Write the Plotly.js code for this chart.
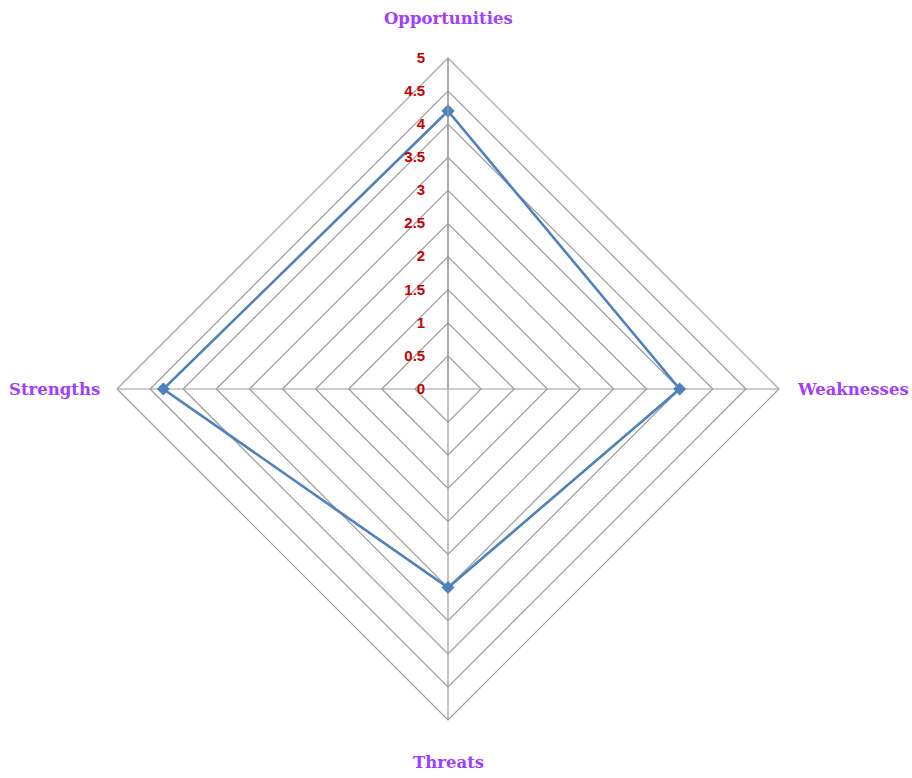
<!DOCTYPE html>
<html>
<head>
<meta charset="utf-8">
<script src="https://cdn.plot.ly/plotly-3.0.1.min.js"></script>
<style>html,body{margin:0;padding:0;background:#fff;}#chart{width:912px;height:778px;}</style>
</head>
<body>
<div id="chart"></div>
<script>
const categories = ["Opportunities", "Weaknesses", "Threats", "Strengths"];
const values = [4.2, 3.5, 3.0, 4.3];
const radialTicks = [0, 0.5, 1, 1.5, 2, 2.5, 3, 3.5, 4, 4.5, 5];

const trace = {
  type: 'scatterpolar',
  theta: categories.concat([categories[0]]),
  r: values.concat([values[0]]),
  mode: 'lines+markers',
  line: {color: '#4f81bd', width: 2.6},
  marker: {symbol: 'diamond', size: 10, color: '#4f81bd'},
  hoverinfo: 'skip',
  showlegend: false
};

const labelFont = {family: 'DejaVu Serif, Liberation Serif, serif', size: 16.5, color: '#a040ff', weight: 'bold'};
const labelPos = [
  {x: 448/912, y: 1 - 18/778, xanchor: 'center', yanchor: 'middle'},
  {x: 795/912, y: 1 - 389/778, xanchor: 'left', yanchor: 'middle'},
  {x: 448/912, y: 1 - 762/778, xanchor: 'center', yanchor: 'middle'},
  {x: 102/912, y: 1 - 389/778, xanchor: 'right', yanchor: 'middle'}
];
const annotations = categories.map((c, i) => Object.assign({
  text: '<b>' + c + '</b>', xref: 'paper', yref: 'paper', showarrow: false, font: labelFont
}, labelPos[i]));

const layout = {
  width: 912, height: 778,
  margin: {l: 0, r: 0, t: 0, b: 0},
  paper_bgcolor: '#ffffff',
  showlegend: false,
  annotations: annotations,
  polar: {
    domain: {x: [117/912, 779/912], y: [58/778, 720/778]},
    bgcolor: '#ffffff',
    gridshape: 'linear',
    angularaxis: {
      direction: 'clockwise',
      rotation: 90,
      showticklabels: false,
      ticks: '',
      showline: true,
      linecolor: '#9c9c9c',
      linewidth: 1.2,
      gridcolor: '#9c9c9c',
      gridwidth: 1.2
    },
    radialaxis: {
      range: [0, 5],
      angle: 90,
      tickvals: radialTicks,
      ticktext: radialTicks.map(String),
      tickangle: 90,
      side: 'counterclockwise',
      ticks: 'outside',
      ticklen: 17,
      tickcolor: 'rgba(0,0,0,0)',
      showline: true,
      linecolor: '#9c9c9c',
      linewidth: 1.2,
      gridcolor: '#9c9c9c',
      gridwidth: 1.2,
      tickfont: {family: 'Liberation Sans, Arial, sans-serif', size: 15, color: '#cc0000', weight: 'bold'}
    }
  }
};

Plotly.newPlot('chart', [trace], layout, {displayModeBar: false, staticPlot: true});
</script>
</body>
</html>
